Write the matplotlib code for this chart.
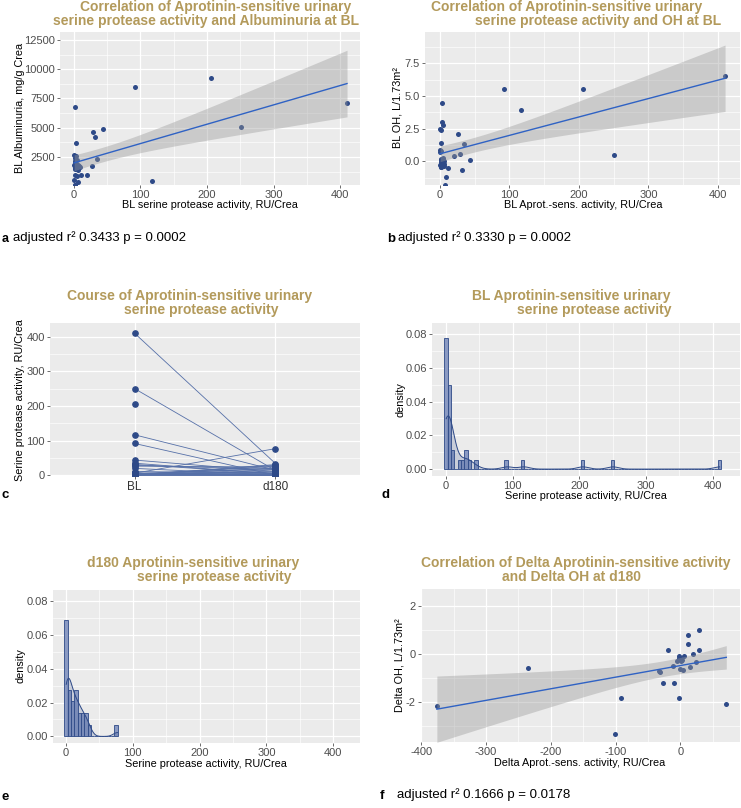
import numpy as np
import matplotlib.pyplot as plt
from matplotlib.ticker import MultipleLocator, FormatStrFormatter

plt.rcParams['font.family'] = ['Liberation Sans', 'DejaVu Sans']
plt.rcParams['axes.unicode_minus'] = False

W, H = 741, 808

# baseline urinary serine protease activity, RU/Crea (one entry per patient)
bl_act = [0.5, 0.8, 1.0, 1.2, 1.5, 1.7, 1.9, 2.0, 0.3, 0.6, 1.1, 2.2, 0.9, 1.4,
          3.0, 3.5, 4.0, 4.5, 5.0, 5.5, 6.0, 6.5, 7.0, 9.0, 11.0,
          20.0, 26.5, 29.0, 31.5, 35.0, 44.0, 92.0, 117.0, 205.5, 250.5, 410.5]
# baseline albuminuria, mg/g Crea
bl_alb = [2650, 1750, 6750, 2150, 1000, 1500, 150, 2400, 1850, 500, 1950, 1600, 100, 2050,
          3670, 2550, 1450, 850, 2250, 1800, 1400, 400, 1700, 1620, 950,
          962, 1757, 4637, 4180, 2300, 4920, 8509, 474, 9278, 5038, 7090]
# baseline overhydration, L/1.73m²
bl_oh = [2.5, 0.85, 2.4, -0.05, 1.39, -0.15, 0.8, -0.25, 0.7, -0.3, 0.2, -0.4, 0.1, -0.45,
         4.49, 3.04, 0.3, 2.78, 0.1, 0.0, -0.2, -0.35, -1.78, -1.21, -0.49,
         0.41, 2.11, 0.56, -0.62, 1.34, 0.13, 5.57, 3.92, 5.57, 0.49, 6.52]
# activity at day 180 (nan = no sample)
nan = float('nan')
d180_act = [12, 29, nan, 1.5, 21, nan, 0.5, 26, 0.8, nan, 16.5, 2.2, 31, nan,
            1.2, 9, nan, 1.8, 2.0, 19.5, 77, 0.6, 7.0, nan, 6.0,
            1.0, 24, 17, 5.0, 3.5, 11, 0.3, 15, nan, 14, 34]
# change from BL to d180
delta_act = [-376, -236, -91.7, -101.5, 70.8, 28.2, 11.3, 11.5, 28.2, -18.9, 19.5, 5.1,
             -1.5, -1, 2, 0.5, -5, 24, -11.7, 15.4, -1, 3.5, -33, -31, -26.7, -9.2,
             -1.5, 1.5, -2.5]
delta_oh = [-2.19, -0.59, -1.86, -3.35, -2.07, 0.99, 0.79, 0.42, 0.18, 0.17, 0.0, -0.08,
            -0.07, -0.2, -0.25, -0.3, -0.3, -0.33, -0.52, -0.56, -0.62, -0.65, -0.72, -0.76,
            -1.23, -1.23, -1.82, -0.22, -0.15]

GOLD = '#B39A5B'
PT = '#2E4A88'
LINE = '#2F62C4'
BG = '#EBEBEB'

fig = plt.figure(figsize=(W / 100, H / 100), dpi=100)


def box(l, t, r, b):
    return fig.add_axes([l / W, 1 - b / H, (r - l) / W, (b - t) / H])


def gg(ax, xmaj, ymaj, yfmt=None):
    ax.set_facecolor(BG)
    for s in ax.spines.values():
        s.set_visible(False)
    if xmaj:
        ax.xaxis.set_major_locator(MultipleLocator(xmaj))
        ax.xaxis.set_minor_locator(MultipleLocator(xmaj / 2))
    ax.yaxis.set_major_locator(MultipleLocator(ymaj))
    ax.yaxis.set_minor_locator(MultipleLocator(ymaj / 2))
    if yfmt:
        ax.yaxis.set_major_formatter(FormatStrFormatter(yfmt))
    ax.grid(which='major', color='white', lw=0.9)
    ax.grid(which='minor', color='white', lw=0.45)
    ax.set_axisbelow(True)
    ax.tick_params(which='major', length=2.5, width=0.5, color='#333333',
                   labelsize=8, labelcolor='#4D4D4D', pad=1.2)
    ax.tick_params(which='minor', length=0)


def t_crit(df):
    z = 1.959964
    return z + (z**3 + z) / (4 * df) + (5 * z**5 + 16 * z**3 + 3 * z) / (96 * df**2)


def smooth(ax, x, y):
    x = np.asarray(x, float)
    y = np.asarray(y, float)
    n = len(x)
    b, a = np.polyfit(x, y, 1)
    res = y - (a + b * x)
    s = np.sqrt(np.sum(res**2) / (n - 2))
    xs = np.linspace(x.min(), x.max(), 80)
    se = s * np.sqrt(1 / n + (xs - x.mean())**2 / np.sum((x - x.mean())**2))
    yh = a + b * xs
    w = t_crit(n - 2) * se
    ax.fill_between(xs, yh - w, yh + w, color='#999999', alpha=0.4, lw=0, zorder=3)
    ax.plot(xs, yh, color=LINE, lw=1.0, zorder=4)


def density(ax, x):
    x = np.asarray(x, float)
    x = x[~np.isnan(x)]
    n = len(x)
    q75, q25 = np.percentile(x, [75, 25])
    bw = 0.9 * min(x.std(ddof=1), (q75 - q25) / 1.34) * n ** -0.2
    xs = np.linspace(x.min(), x.max(), 512)
    d = np.exp(-0.5 * ((xs[:, None] - x[None, :]) / bw) ** 2).sum(1) / (n * bw * np.sqrt(2 * np.pi))
    edges = np.arange(-2.5, x.max() + 5, 5)
    ax.hist(x, bins=edges, density=True, color='#8A9AC3', edgecolor=PT, lw=0.6, zorder=3)
    ax.fill_between(xs, 0, d, color=PT, alpha=0.18, lw=0, zorder=4)
    ax.plot(xs, d, color=PT, lw=0.7, zorder=5)


def ftext(x, y, s, **kw):
    fig.text(x / W, 1 - y / H, s, va='center', **kw)


def title(cx1, cx2, y, l1, l2):
    ftext(cx1, y, l1, ha='center', fontsize=10, fontweight='bold', color=GOLD)
    ftext(cx2, y + 14, l2, ha='center', fontsize=10, fontweight='bold', color=GOLD)


# a
ax = box(60, 32, 360, 185)
gg(ax, 100, 2500)
ax.scatter(bl_act, bl_alb, s=13, color=PT, lw=0, zorder=2)
smooth(ax, bl_act, bl_alb)
ax.set_xlim(-21, 430)
ax.set_ylim(110, 13180)
title(216, 206, 7, 'Correlation of Aprotinin-sensitive urinary',
      'serine protease activity and Albuminuria at BL')
ftext(20, 108, 'BL Albuminuria, mg/g Crea', ha='center', rotation=90, fontsize=7.8)
ftext(210, 205, 'BL serine protease activity, RU/Crea', ha='center', fontsize=7.8)
ftext(2, 239, 'a', ha='left', fontsize=9, fontweight='bold')
ftext(13, 238, 'adjusted r² 0.3433 p = 0.0002', ha='left', fontsize=9.5)

# b
ax = box(425, 32, 740, 185)
gg(ax, 100, 2.5, '%.1f')
ax.scatter(bl_act, bl_oh, s=13, color=PT, lw=0, zorder=2)
smooth(ax, bl_act, bl_oh)
ax.set_xlim(-21.5, 432)
ax.set_ylim(-1.8, 9.9)
title(567, 598, 7, 'Correlation of Aprotinin-sensitive urinary',
      'serine protease activity and OH at BL')
ftext(398, 108, 'BL OH, L/1.73m²', ha='center', rotation=90, fontsize=7.8)
ftext(583, 205, 'BL Aprot.-sens. activity, RU/Crea', ha='center', fontsize=7.8)
ftext(387, 239, 'b', ha='left', fontsize=9.5, fontweight='bold')
ftext(398, 238, 'adjusted r² 0.3330 p = 0.0002', ha='left', fontsize=9.5)

# c
ax = box(50, 323, 360, 476)
gg(ax, None, 100)
ax.set_xticks([1, 2], ['BL', 'd180'])
ax.tick_params(axis='x', labelsize=8.5, labelcolor='#333333')
for b0, d0 in zip(bl_act, d180_act):
    if not np.isnan(d0):
        ax.plot([1, 2], [b0, d0], color='#5670A8', lw=0.6, zorder=2)
ax.plot([1] * len(bl_act), bl_act, 'o', ms=3.8, color=PT, zorder=3)
ax.plot([2] * len(d180_act), d180_act, 'o', ms=3.8, color=PT, zorder=3)
ax.set_xlim(0.4, 2.6)
ax.set_ylim(-2, 440)
title(190, 201, 296, 'Course of Aprotinin-sensitive urinary', 'serine protease activity')
ftext(20, 400, 'Serine protease activity, RU/Crea', ha='center', rotation=90, fontsize=7.8)
ftext(2, 495, 'c', ha='left', fontsize=9.5, fontweight='bold')

# d
ax = box(432, 323, 740, 476)
gg(ax, 100, 0.02, '%.2f')
density(ax, bl_act)
ax.set_xlim(-21, 441)
ax.set_ylim(-0.0041, 0.0865)
title(571, 594, 296, 'BL Aprotinin-sensitive urinary', 'serine protease activity')
ftext(400, 400, 'density', ha='center', rotation=90, fontsize=7.8)
ftext(586, 496, 'Serine protease activity, RU/Crea', ha='center', fontsize=7.8)
ftext(381, 495, 'd', ha='left', fontsize=9.5, fontweight='bold')

# e
ax = box(53, 590, 360, 743)
gg(ax, 100, 0.02, '%.2f')
density(ax, d180_act)
ax.set_xlim(-19.5, 440)
ax.set_ylim(-0.0039, 0.0865)
title(193, 214, 563, 'd180 Aprotinin-sensitive urinary', 'serine protease activity')
ftext(20, 666, 'density', ha='center', rotation=90, fontsize=7.8)
ftext(206, 764, 'Serine protease activity, RU/Crea', ha='center', fontsize=7.8)
ftext(2, 797, 'e', ha='left', fontsize=9.5, fontweight='bold')

# f
ax = box(421, 589, 740, 742)
gg(ax, 100, 2)
ax.scatter(delta_act, delta_oh, s=13, color=PT, lw=0, zorder=2)
smooth(ax, delta_act, delta_oh)
ax.set_xlim(-400.5, 92)
ax.set_ylim(-3.68, 2.72)
title(576, 572, 563, 'Correlation of Delta Aprotinin-sensitive activity', 'and Delta OH at d180')
ftext(399, 665, 'Delta OH, L/1.73m²', ha='center', rotation=90, fontsize=7.8)
ftext(580, 763, 'Delta Aprot.-sens. activity, RU/Crea', ha='center', fontsize=7.8)
ftext(380, 796, 'f', ha='left', fontsize=9.5, fontweight='bold')
ftext(397, 795, 'adjusted r² 0.1666 p = 0.0178', ha='left', fontsize=9.5)

fig.savefig('out.png', dpi=100)
